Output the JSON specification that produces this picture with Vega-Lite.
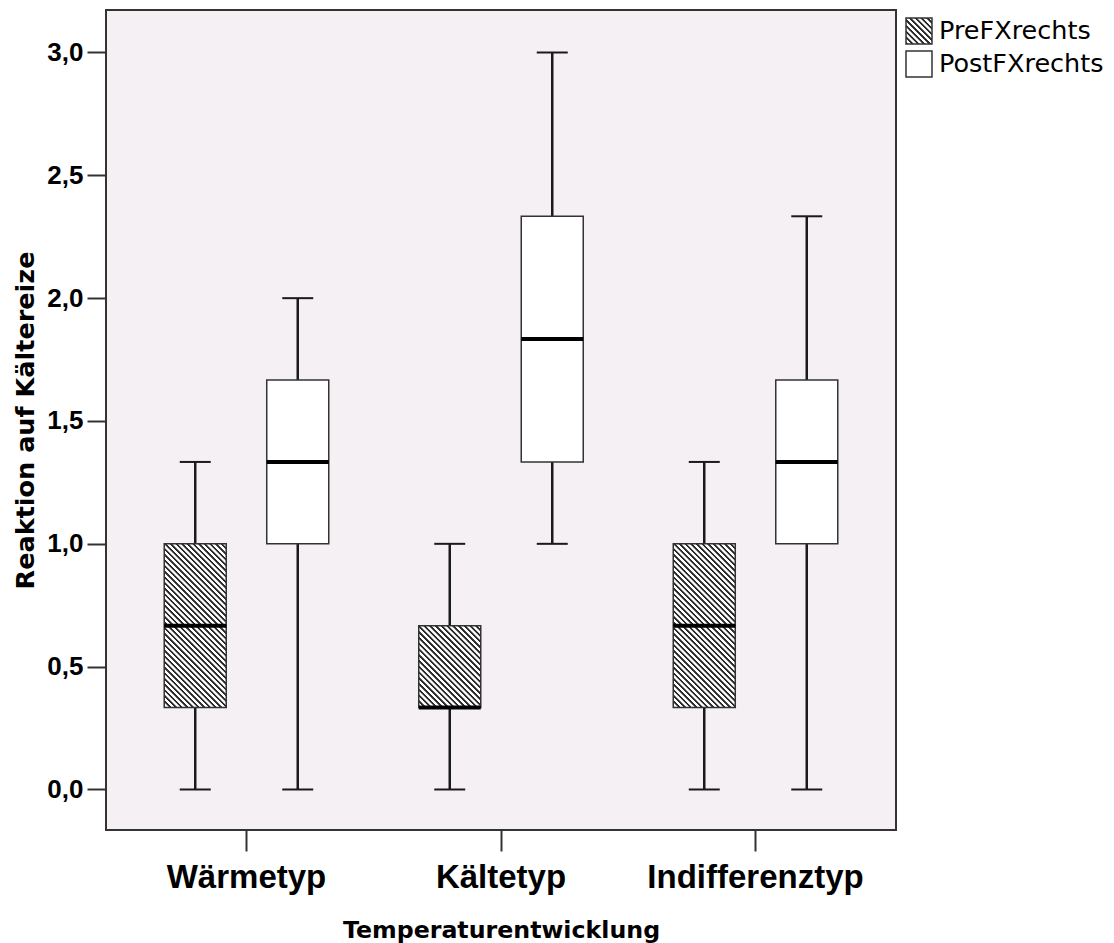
{
  "$schema": "https://vega.github.io/schema/vega-lite/v6.json",
  "width": 790,
  "height": 820,
  "autosize": "none",
  "padding": {"left": 106, "top": 10, "right": 218, "bottom": 113},
  "background": "white",
  "config": {
    "view": {"fill": "#f5f0f4", "stroke": "#333333", "strokeWidth": 2},
    "axis": {"grid": false, "domain": false, "tickColor": "#333333", "tickWidth": 2, "labelColor": "#000000", "titleColor": "#000000"}
  },
  "data": {
    "values": [
      {"typ": "Wärmetyp", "serie": "PreFXrechts", "min": 0, "q1": 0.3333, "median": 0.6667, "q3": 1.0, "max": 1.3333},
      {"typ": "Wärmetyp", "serie": "PostFXrechts", "min": 0, "q1": 1.0, "median": 1.3333, "q3": 1.6667, "max": 2.0},
      {"typ": "Kältetyp", "serie": "PreFXrechts", "min": 0, "q1": 0.3333, "median": 0.3333, "q3": 0.6667, "max": 1.0},
      {"typ": "Kältetyp", "serie": "PostFXrechts", "min": 1.0, "q1": 1.3333, "median": 1.8333, "q3": 2.3333, "max": 3.0},
      {"typ": "Indifferenztyp", "serie": "PreFXrechts", "min": 0, "q1": 0.3333, "median": 0.6667, "q3": 1.0, "max": 1.3333},
      {"typ": "Indifferenztyp", "serie": "PostFXrechts", "min": 0, "q1": 1.0, "median": 1.3333, "q3": 1.6667, "max": 2.3333}
    ]
  },
  "encoding": {
    "x": {
      "field": "typ", "type": "nominal",
      "sort": ["Wärmetyp", "Kältetyp", "Indifferenztyp"],
      "scale": {"paddingInner": 0, "paddingOuter": 0.052},
      "axis": {
        "title": "Temperaturentwicklung", "labelAngle": 0, "tickSize": 21, "labelPadding": 10, "labelLimit": 400,
        "labelFont": "Liberation Sans", "labelFontSize": 33, "labelFontWeight": "bold",
        "titleFont": "DejaVu Sans", "titleFontSize": 23.7, "titleFontWeight": "bold", "titlePadding": 24
      }
    },
    "xOffset": {
      "field": "serie", "type": "nominal",
      "sort": ["PreFXrechts", "PostFXrechts"],
      "scale": {"domain": ["PreFXrechts", "PostFXrechts"], "paddingInner": 0.395, "paddingOuter": 0.439}
    }
  },
  "layer": [
    {
      "mark": {"type": "rule", "color": "#1a1a1a", "strokeWidth": 2.5},
      "encoding": {
        "y": {
          "field": "min", "type": "quantitative",
          "scale": {"domain": [-0.1649, 3.173], "nice": false, "zero": false},
          "axis": {
            "title": "Reaktion auf Kältereize", "values": [0, 0.5, 1, 1.5, 2, 2.5, 3],
            "labelExpr": "replace(format(datum.value, '.1f'), '.', ',')",
            "tickSize": 19, "labelPadding": 4,
            "labelFont": "Liberation Sans", "labelFontSize": 26, "labelFontWeight": "bold",
            "titleFont": "DejaVu Sans", "titleFontSize": 25.5, "titleFontWeight": "bold", "titlePadding": 8
          }
        },
        "y2": {"field": "q1"}
      }
    },
    {
      "mark": {"type": "rule", "color": "#1a1a1a", "strokeWidth": 2.5},
      "encoding": {
        "y": {"field": "q3", "type": "quantitative"},
        "y2": {"field": "max"}
      }
    },
    {
      "mark": {"type": "tick", "color": "#1a1a1a", "size": 31, "thickness": 2, "opacity": 1},
      "encoding": {"y": {"field": "min", "type": "quantitative"}}
    },
    {
      "mark": {"type": "tick", "color": "#1a1a1a", "size": 31, "thickness": 2, "opacity": 1},
      "encoding": {"y": {"field": "max", "type": "quantitative"}}
    },
    {
      "mark": {"type": "bar", "stroke": "#333333", "strokeWidth": 1.5, "opacity": 1, "fillOpacity": 1},
      "encoding": {
        "y": {"field": "q1", "type": "quantitative"},
        "y2": {"field": "q3"},
        "fill": {
          "field": "serie", "type": "nominal",
          "scale": {
            "domain": ["PreFXrechts", "PostFXrechts"],
            "range": [
              {"expr": "{gradient: 'linear', x1: 0, y1: 1, x2: 1, y2: 0, stops: [{offset: 0, color: '#2a2a2a'}, {offset: 0.036, color: '#2a2a2a'}, {offset: 0.05, color: '#ffffff'}, {offset: 0.097, color: '#ffffff'}, {offset: 0.111, color: '#2a2a2a'}, {offset: 0.147, color: '#2a2a2a'}, {offset: 0.161, color: '#ffffff'}, {offset: 0.208, color: '#ffffff'}, {offset: 0.222, color: '#2a2a2a'}, {offset: 0.258, color: '#2a2a2a'}, {offset: 0.272, color: '#ffffff'}, {offset: 0.319, color: '#ffffff'}, {offset: 0.333, color: '#2a2a2a'}, {offset: 0.369, color: '#2a2a2a'}, {offset: 0.383, color: '#ffffff'}, {offset: 0.43, color: '#ffffff'}, {offset: 0.444, color: '#2a2a2a'}, {offset: 0.48, color: '#2a2a2a'}, {offset: 0.494, color: '#ffffff'}, {offset: 0.541, color: '#ffffff'}, {offset: 0.556, color: '#2a2a2a'}, {offset: 0.592, color: '#2a2a2a'}, {offset: 0.606, color: '#ffffff'}, {offset: 0.653, color: '#ffffff'}, {offset: 0.667, color: '#2a2a2a'}, {offset: 0.703, color: '#2a2a2a'}, {offset: 0.717, color: '#ffffff'}, {offset: 0.764, color: '#ffffff'}, {offset: 0.778, color: '#2a2a2a'}, {offset: 0.814, color: '#2a2a2a'}, {offset: 0.828, color: '#ffffff'}, {offset: 0.875, color: '#ffffff'}, {offset: 0.889, color: '#2a2a2a'}, {offset: 0.925, color: '#2a2a2a'}, {offset: 0.939, color: '#ffffff'}, {offset: 0.986, color: '#ffffff'}, {offset: 1, color: '#2a2a2a'}]}"},
              "#ffffff"
            ]
          },
          "condition": [
            {
              "test": "datum.serie === 'PreFXrechts' && (datum.q3 - datum.q1) > 0.5",
              "value": {
                "gradient": "linear", "x1": 0, "y1": 1, "x2": 0.457, "y2": -0.2057,
                "stops": [
                  {"offset": 0, "color": "#2a2a2a"}, {"offset": 0.008, "color": "#2a2a2a"}, {"offset": 0.011, "color": "#ffffff"}, {"offset": 0.022, "color": "#ffffff"},
                  {"offset": 0.025, "color": "#2a2a2a"}, {"offset": 0.033, "color": "#2a2a2a"}, {"offset": 0.036, "color": "#ffffff"}, {"offset": 0.047, "color": "#ffffff"},
                  {"offset": 0.05, "color": "#2a2a2a"}, {"offset": 0.058, "color": "#2a2a2a"}, {"offset": 0.061, "color": "#ffffff"}, {"offset": 0.072, "color": "#ffffff"},
                  {"offset": 0.075, "color": "#2a2a2a"}, {"offset": 0.083, "color": "#2a2a2a"}, {"offset": 0.086, "color": "#ffffff"}, {"offset": 0.097, "color": "#ffffff"},
                  {"offset": 0.1, "color": "#2a2a2a"}, {"offset": 0.108, "color": "#2a2a2a"}, {"offset": 0.111, "color": "#ffffff"}, {"offset": 0.122, "color": "#ffffff"},
                  {"offset": 0.125, "color": "#2a2a2a"}, {"offset": 0.133, "color": "#2a2a2a"}, {"offset": 0.136, "color": "#ffffff"}, {"offset": 0.147, "color": "#ffffff"},
                  {"offset": 0.15, "color": "#2a2a2a"}, {"offset": 0.158, "color": "#2a2a2a"}, {"offset": 0.161, "color": "#ffffff"}, {"offset": 0.172, "color": "#ffffff"},
                  {"offset": 0.175, "color": "#2a2a2a"}, {"offset": 0.183, "color": "#2a2a2a"}, {"offset": 0.186, "color": "#ffffff"}, {"offset": 0.197, "color": "#ffffff"},
                  {"offset": 0.2, "color": "#2a2a2a"}, {"offset": 0.208, "color": "#2a2a2a"}, {"offset": 0.211, "color": "#ffffff"}, {"offset": 0.222, "color": "#ffffff"},
                  {"offset": 0.225, "color": "#2a2a2a"}, {"offset": 0.233, "color": "#2a2a2a"}, {"offset": 0.236, "color": "#ffffff"}, {"offset": 0.247, "color": "#ffffff"},
                  {"offset": 0.25, "color": "#2a2a2a"}, {"offset": 0.258, "color": "#2a2a2a"}, {"offset": 0.261, "color": "#ffffff"}, {"offset": 0.272, "color": "#ffffff"},
                  {"offset": 0.275, "color": "#2a2a2a"}, {"offset": 0.283, "color": "#2a2a2a"}, {"offset": 0.286, "color": "#ffffff"}, {"offset": 0.297, "color": "#ffffff"},
                  {"offset": 0.3, "color": "#2a2a2a"}, {"offset": 0.308, "color": "#2a2a2a"}, {"offset": 0.311, "color": "#ffffff"}, {"offset": 0.322, "color": "#ffffff"},
                  {"offset": 0.325, "color": "#2a2a2a"}, {"offset": 0.333, "color": "#2a2a2a"}, {"offset": 0.336, "color": "#ffffff"}, {"offset": 0.347, "color": "#ffffff"},
                  {"offset": 0.35, "color": "#2a2a2a"}, {"offset": 0.358, "color": "#2a2a2a"}, {"offset": 0.361, "color": "#ffffff"}, {"offset": 0.372, "color": "#ffffff"},
                  {"offset": 0.375, "color": "#2a2a2a"}, {"offset": 0.383, "color": "#2a2a2a"}, {"offset": 0.386, "color": "#ffffff"}, {"offset": 0.397, "color": "#ffffff"},
                  {"offset": 0.4, "color": "#2a2a2a"}, {"offset": 0.408, "color": "#2a2a2a"}, {"offset": 0.411, "color": "#ffffff"}, {"offset": 0.422, "color": "#ffffff"},
                  {"offset": 0.425, "color": "#2a2a2a"}, {"offset": 0.433, "color": "#2a2a2a"}, {"offset": 0.436, "color": "#ffffff"}, {"offset": 0.447, "color": "#ffffff"},
                  {"offset": 0.45, "color": "#2a2a2a"}, {"offset": 0.458, "color": "#2a2a2a"}, {"offset": 0.461, "color": "#ffffff"}, {"offset": 0.472, "color": "#ffffff"},
                  {"offset": 0.475, "color": "#2a2a2a"}, {"offset": 0.483, "color": "#2a2a2a"}, {"offset": 0.486, "color": "#ffffff"}, {"offset": 0.497, "color": "#ffffff"},
                  {"offset": 0.5, "color": "#2a2a2a"}, {"offset": 0.508, "color": "#2a2a2a"}, {"offset": 0.511, "color": "#ffffff"}, {"offset": 0.522, "color": "#ffffff"},
                  {"offset": 0.525, "color": "#2a2a2a"}, {"offset": 0.533, "color": "#2a2a2a"}, {"offset": 0.536, "color": "#ffffff"}, {"offset": 0.547, "color": "#ffffff"},
                  {"offset": 0.55, "color": "#2a2a2a"}, {"offset": 0.558, "color": "#2a2a2a"}, {"offset": 0.561, "color": "#ffffff"}, {"offset": 0.572, "color": "#ffffff"},
                  {"offset": 0.575, "color": "#2a2a2a"}, {"offset": 0.583, "color": "#2a2a2a"}, {"offset": 0.586, "color": "#ffffff"}, {"offset": 0.597, "color": "#ffffff"},
                  {"offset": 0.6, "color": "#2a2a2a"}, {"offset": 0.608, "color": "#2a2a2a"}, {"offset": 0.611, "color": "#ffffff"}, {"offset": 0.622, "color": "#ffffff"},
                  {"offset": 0.625, "color": "#2a2a2a"}, {"offset": 0.633, "color": "#2a2a2a"}, {"offset": 0.636, "color": "#ffffff"}, {"offset": 0.647, "color": "#ffffff"},
                  {"offset": 0.65, "color": "#2a2a2a"}, {"offset": 0.658, "color": "#2a2a2a"}, {"offset": 0.661, "color": "#ffffff"}, {"offset": 0.672, "color": "#ffffff"},
                  {"offset": 0.675, "color": "#2a2a2a"}, {"offset": 0.683, "color": "#2a2a2a"}, {"offset": 0.686, "color": "#ffffff"}, {"offset": 0.697, "color": "#ffffff"},
                  {"offset": 0.7, "color": "#2a2a2a"}, {"offset": 0.708, "color": "#2a2a2a"}, {"offset": 0.711, "color": "#ffffff"}, {"offset": 0.722, "color": "#ffffff"},
                  {"offset": 0.725, "color": "#2a2a2a"}, {"offset": 0.733, "color": "#2a2a2a"}, {"offset": 0.736, "color": "#ffffff"}, {"offset": 0.747, "color": "#ffffff"},
                  {"offset": 0.75, "color": "#2a2a2a"}, {"offset": 0.758, "color": "#2a2a2a"}, {"offset": 0.761, "color": "#ffffff"}, {"offset": 0.772, "color": "#ffffff"},
                  {"offset": 0.775, "color": "#2a2a2a"}, {"offset": 0.783, "color": "#2a2a2a"}, {"offset": 0.786, "color": "#ffffff"}, {"offset": 0.797, "color": "#ffffff"},
                  {"offset": 0.8, "color": "#2a2a2a"}, {"offset": 0.808, "color": "#2a2a2a"}, {"offset": 0.811, "color": "#ffffff"}, {"offset": 0.822, "color": "#ffffff"},
                  {"offset": 0.825, "color": "#2a2a2a"}, {"offset": 0.833, "color": "#2a2a2a"}, {"offset": 0.836, "color": "#ffffff"}, {"offset": 0.847, "color": "#ffffff"},
                  {"offset": 0.85, "color": "#2a2a2a"}, {"offset": 0.858, "color": "#2a2a2a"}, {"offset": 0.861, "color": "#ffffff"}, {"offset": 0.872, "color": "#ffffff"},
                  {"offset": 0.875, "color": "#2a2a2a"}, {"offset": 0.883, "color": "#2a2a2a"}, {"offset": 0.886, "color": "#ffffff"}, {"offset": 0.897, "color": "#ffffff"},
                  {"offset": 0.9, "color": "#2a2a2a"}, {"offset": 0.908, "color": "#2a2a2a"}, {"offset": 0.911, "color": "#ffffff"}, {"offset": 0.922, "color": "#ffffff"},
                  {"offset": 0.925, "color": "#2a2a2a"}, {"offset": 0.933, "color": "#2a2a2a"}, {"offset": 0.936, "color": "#ffffff"}, {"offset": 0.947, "color": "#ffffff"},
                  {"offset": 0.95, "color": "#2a2a2a"}, {"offset": 0.958, "color": "#2a2a2a"}, {"offset": 0.961, "color": "#ffffff"}, {"offset": 0.972, "color": "#ffffff"},
                  {"offset": 0.975, "color": "#2a2a2a"}, {"offset": 0.983, "color": "#2a2a2a"}, {"offset": 0.986, "color": "#ffffff"}, {"offset": 0.997, "color": "#ffffff"},
                  {"offset": 1, "color": "#2a2a2a"}
                ]
              }
            },
            {
              "test": "datum.serie === 'PreFXrechts'",
              "value": {
                "gradient": "linear", "x1": 0, "y1": 1, "x2": 0.8463, "y2": -0.1166,
                "stops": [
                  {"offset": 0, "color": "#2a2a2a"}, {"offset": 0.013, "color": "#2a2a2a"}, {"offset": 0.018, "color": "#ffffff"}, {"offset": 0.035, "color": "#ffffff"},
                  {"offset": 0.04, "color": "#2a2a2a"}, {"offset": 0.053, "color": "#2a2a2a"}, {"offset": 0.058, "color": "#ffffff"}, {"offset": 0.075, "color": "#ffffff"},
                  {"offset": 0.08, "color": "#2a2a2a"}, {"offset": 0.093, "color": "#2a2a2a"}, {"offset": 0.098, "color": "#ffffff"}, {"offset": 0.115, "color": "#ffffff"},
                  {"offset": 0.12, "color": "#2a2a2a"}, {"offset": 0.133, "color": "#2a2a2a"}, {"offset": 0.138, "color": "#ffffff"}, {"offset": 0.155, "color": "#ffffff"},
                  {"offset": 0.16, "color": "#2a2a2a"}, {"offset": 0.173, "color": "#2a2a2a"}, {"offset": 0.178, "color": "#ffffff"}, {"offset": 0.195, "color": "#ffffff"},
                  {"offset": 0.2, "color": "#2a2a2a"}, {"offset": 0.213, "color": "#2a2a2a"}, {"offset": 0.218, "color": "#ffffff"}, {"offset": 0.235, "color": "#ffffff"},
                  {"offset": 0.24, "color": "#2a2a2a"}, {"offset": 0.253, "color": "#2a2a2a"}, {"offset": 0.258, "color": "#ffffff"}, {"offset": 0.275, "color": "#ffffff"},
                  {"offset": 0.28, "color": "#2a2a2a"}, {"offset": 0.293, "color": "#2a2a2a"}, {"offset": 0.298, "color": "#ffffff"}, {"offset": 0.315, "color": "#ffffff"},
                  {"offset": 0.32, "color": "#2a2a2a"}, {"offset": 0.333, "color": "#2a2a2a"}, {"offset": 0.338, "color": "#ffffff"}, {"offset": 0.355, "color": "#ffffff"},
                  {"offset": 0.36, "color": "#2a2a2a"}, {"offset": 0.373, "color": "#2a2a2a"}, {"offset": 0.378, "color": "#ffffff"}, {"offset": 0.395, "color": "#ffffff"},
                  {"offset": 0.4, "color": "#2a2a2a"}, {"offset": 0.413, "color": "#2a2a2a"}, {"offset": 0.418, "color": "#ffffff"}, {"offset": 0.435, "color": "#ffffff"},
                  {"offset": 0.44, "color": "#2a2a2a"}, {"offset": 0.453, "color": "#2a2a2a"}, {"offset": 0.458, "color": "#ffffff"}, {"offset": 0.475, "color": "#ffffff"},
                  {"offset": 0.48, "color": "#2a2a2a"}, {"offset": 0.493, "color": "#2a2a2a"}, {"offset": 0.498, "color": "#ffffff"}, {"offset": 0.515, "color": "#ffffff"},
                  {"offset": 0.52, "color": "#2a2a2a"}, {"offset": 0.533, "color": "#2a2a2a"}, {"offset": 0.538, "color": "#ffffff"}, {"offset": 0.555, "color": "#ffffff"},
                  {"offset": 0.56, "color": "#2a2a2a"}, {"offset": 0.573, "color": "#2a2a2a"}, {"offset": 0.578, "color": "#ffffff"}, {"offset": 0.595, "color": "#ffffff"},
                  {"offset": 0.6, "color": "#2a2a2a"}, {"offset": 0.613, "color": "#2a2a2a"}, {"offset": 0.618, "color": "#ffffff"}, {"offset": 0.635, "color": "#ffffff"},
                  {"offset": 0.64, "color": "#2a2a2a"}, {"offset": 0.653, "color": "#2a2a2a"}, {"offset": 0.658, "color": "#ffffff"}, {"offset": 0.675, "color": "#ffffff"},
                  {"offset": 0.68, "color": "#2a2a2a"}, {"offset": 0.693, "color": "#2a2a2a"}, {"offset": 0.698, "color": "#ffffff"}, {"offset": 0.715, "color": "#ffffff"},
                  {"offset": 0.72, "color": "#2a2a2a"}, {"offset": 0.733, "color": "#2a2a2a"}, {"offset": 0.738, "color": "#ffffff"}, {"offset": 0.755, "color": "#ffffff"},
                  {"offset": 0.76, "color": "#2a2a2a"}, {"offset": 0.773, "color": "#2a2a2a"}, {"offset": 0.778, "color": "#ffffff"}, {"offset": 0.795, "color": "#ffffff"},
                  {"offset": 0.8, "color": "#2a2a2a"}, {"offset": 0.813, "color": "#2a2a2a"}, {"offset": 0.818, "color": "#ffffff"}, {"offset": 0.835, "color": "#ffffff"},
                  {"offset": 0.84, "color": "#2a2a2a"}, {"offset": 0.853, "color": "#2a2a2a"}, {"offset": 0.858, "color": "#ffffff"}, {"offset": 0.875, "color": "#ffffff"},
                  {"offset": 0.88, "color": "#2a2a2a"}, {"offset": 0.893, "color": "#2a2a2a"}, {"offset": 0.898, "color": "#ffffff"}, {"offset": 0.915, "color": "#ffffff"},
                  {"offset": 0.92, "color": "#2a2a2a"}, {"offset": 0.933, "color": "#2a2a2a"}, {"offset": 0.938, "color": "#ffffff"}, {"offset": 0.955, "color": "#ffffff"},
                  {"offset": 0.96, "color": "#2a2a2a"}, {"offset": 0.973, "color": "#2a2a2a"}, {"offset": 0.978, "color": "#ffffff"}, {"offset": 0.995, "color": "#ffffff"},
                  {"offset": 1, "color": "#2a2a2a"}
                ]
              }
            }
          ],
          "legend": {
            "title": null, "orient": "right", "offset": 2, "padding": 7,
            "symbolType": "square", "symbolSize": 676, "symbolStrokeWidth": 1.5, "symbolStrokeColor": "#333333",
            "rowPadding": 1, "labelOffset": 6,
            "labelFont": "DejaVu Sans", "labelFontSize": 25.5, "labelColor": "#000000", "labelLimit": 300
          }
        }
      }
    },
    {
      "mark": {"type": "tick", "color": "#000000", "size": 62, "thickness": 4, "opacity": 1},
      "encoding": {"y": {"field": "median", "type": "quantitative"}}
    }
  ]
}
